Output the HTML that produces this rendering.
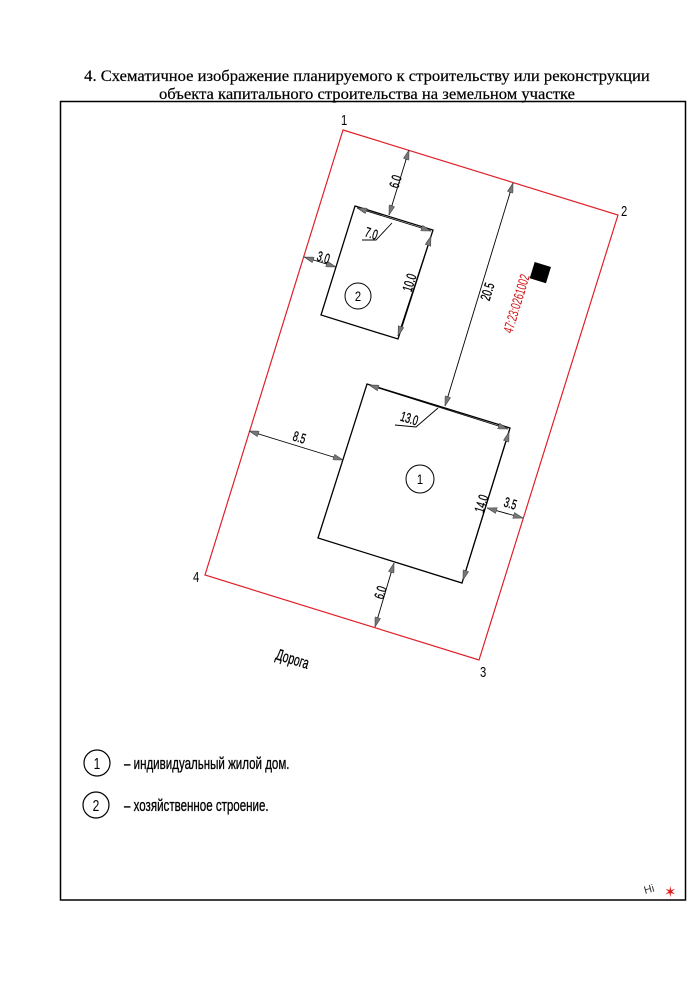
<!DOCTYPE html>
<html><head><meta charset="utf-8"><style>
html,body{margin:0;padding:0;background:#fff;}
svg{display:block;}
</style></head><body>
<svg width="700" height="990" viewBox="0 0 700 990" xmlns="http://www.w3.org/2000/svg">
<defs>
<marker id="a" viewBox="0 0 10 6" refX="10" refY="3" markerWidth="10" markerHeight="6" orient="auto-start-reverse" markerUnits="userSpaceOnUse">
<path d="M0,0 L10,3 L0,6 Z" fill="#777" stroke="#333" stroke-width="0.5"/></marker>
</defs>
<g font-family="Liberation Serif, serif" font-size="15.5" text-anchor="middle" fill="#000" stroke="#000" stroke-width="0.2">
<text x="367" y="81" transform="translate(367 0) scale(1.07 1) translate(-367 0)">4. Схематичное изображение планируемого к строительству или реконструкции</text>
<text x="367" y="99" transform="translate(367 0) scale(1.07 1) translate(-367 0)">объекта капитального строительства на земельном участке</text>
</g>
<rect x="60.5" y="101.5" width="625" height="798.5" fill="none" stroke="#000" stroke-width="1.5"/>
<polygon points="343,130 618,215 479,660 205,575" fill="none" stroke="#e0202a" stroke-width="1.2"/>
<g font-family="Liberation Sans, sans-serif" font-size="15" fill="#000">
<text x="341" y="125" transform="translate(341 0) scale(0.75 1) translate(-341 0)">1</text>
<text x="621" y="216" transform="translate(621 0) scale(0.75 1) translate(-621 0)">2</text>
<text x="480" y="677" transform="translate(480 0) scale(0.75 1) translate(-480 0)">3</text>
<text x="193" y="582" transform="translate(193 0) scale(0.75 1) translate(-193 0)">4</text>
</g>
<g fill="none" stroke="#000" stroke-width="1.3">
<polygon points="355,206 433,230 398,339 321,315"/>
<polygon points="367,384 510,428 462,583 318,538"/>
</g>
<g stroke="#000" stroke-width="0.9" fill="none">
<line x1="409" y1="150" x2="389" y2="215" marker-start="url(#a)" marker-end="url(#a)"/>
<line x1="513" y1="183" x2="445" y2="406" marker-start="url(#a)" marker-end="url(#a)"/>
<line x1="304" y1="257" x2="336" y2="267" marker-start="url(#a)" marker-end="url(#a)"/>
<line x1="431" y1="236" x2="398" y2="336" marker-start="url(#a)" marker-end="url(#a)"/>
<line x1="357" y1="208" x2="431" y2="231" marker-start="url(#a)" marker-end="url(#a)"/>
<line x1="249" y1="431" x2="343" y2="460" marker-start="url(#a)" marker-end="url(#a)"/>
<line x1="487" y1="508" x2="523" y2="518" marker-start="url(#a)" marker-end="url(#a)"/>
<line x1="394" y1="563" x2="375" y2="627" marker-start="url(#a)" marker-end="url(#a)"/>
<line x1="509" y1="432" x2="463" y2="580" marker-start="url(#a)" marker-end="url(#a)"/>
<line x1="369" y1="385" x2="508" y2="429" marker-start="url(#a)" marker-end="url(#a)"/>
<polyline points="362,240 376,240 392,223"/>
<polyline points="395,425 416,427 438,408"/>
</g>
<g font-family="Liberation Sans, sans-serif" font-size="14" fill="#000" text-anchor="middle" stroke="#000" stroke-width="0.3">
<text transform="translate(400 183) rotate(-73) scale(0.65 1)">6.0</text>
<text transform="translate(492 293) rotate(-73) scale(0.65 1)">20.5</text>
<text transform="translate(322 262) rotate(17) scale(0.65 1)">3.0</text>
<text transform="translate(414 284) rotate(-73) scale(0.65 1)">10.0</text>
<text transform="translate(370 238) rotate(17) scale(0.65 1)">7.0</text>
<text transform="translate(408 423) rotate(17) scale(0.65 1)">13.0</text>
<text transform="translate(298 442) rotate(17) scale(0.65 1)">8.5</text>
<text transform="translate(509 508) rotate(17) scale(0.65 1)">3.5</text>
<text transform="translate(385 594) rotate(-73) scale(0.65 1)">6.0</text>
<text transform="translate(486 505) rotate(-73) scale(0.65 1)">14.0</text>
<text transform="translate(291 664) rotate(17) scale(0.65 1)" font-size="16">Дорога</text>
</g>
<circle cx="358" cy="296" r="13" fill="none" stroke="#000" stroke-width="1"/>
<text x="358" y="301" font-family="Liberation Sans, sans-serif" font-size="14" text-anchor="middle" transform="translate(358 0) scale(0.8 1) translate(-358 0)">2</text>
<circle cx="420" cy="479" r="14" fill="none" stroke="#000" stroke-width="1"/>
<text x="420" y="484" font-family="Liberation Sans, sans-serif" font-size="14" text-anchor="middle" transform="translate(420 0) scale(0.8 1) translate(-420 0)">1</text>
<rect x="532" y="264" width="17" height="17" fill="#000" transform="rotate(17 540 272)"/>
<text transform="translate(521 305) rotate(-73) scale(0.65 1)" font-family="Liberation Sans, sans-serif" font-size="14" fill="#d01010" text-anchor="middle">47:23:0261002</text>
<circle cx="97" cy="763" r="13" fill="none" stroke="#000" stroke-width="1.2"/>
<text x="97" y="769" font-family="Liberation Sans, sans-serif" font-size="16" text-anchor="middle" transform="translate(97 0) scale(0.75 1) translate(-97 0)">1</text>
<circle cx="96" cy="805" r="13" fill="none" stroke="#000" stroke-width="1.2"/>
<text x="96" y="811" font-family="Liberation Sans, sans-serif" font-size="16" text-anchor="middle" transform="translate(96 0) scale(0.75 1) translate(-96 0)">2</text>
<g font-family="Liberation Sans, sans-serif" font-size="17" stroke="#000" stroke-width="0.3">
<text transform="translate(124 769) scale(0.68 1)">– индивидуальный жилой дом.</text>
<text transform="translate(124 811) scale(0.68 1)">– хозяйственное строение.</text>
</g>
<text x="645" y="894" font-family="Liberation Sans, sans-serif" font-size="11" fill="#333" transform="rotate(-15 645 894)">Hi</text>
<text x="664" y="897" font-family="Liberation Sans, sans-serif" font-size="15" fill="#e02020">✶</text>
</svg>
</body></html>
